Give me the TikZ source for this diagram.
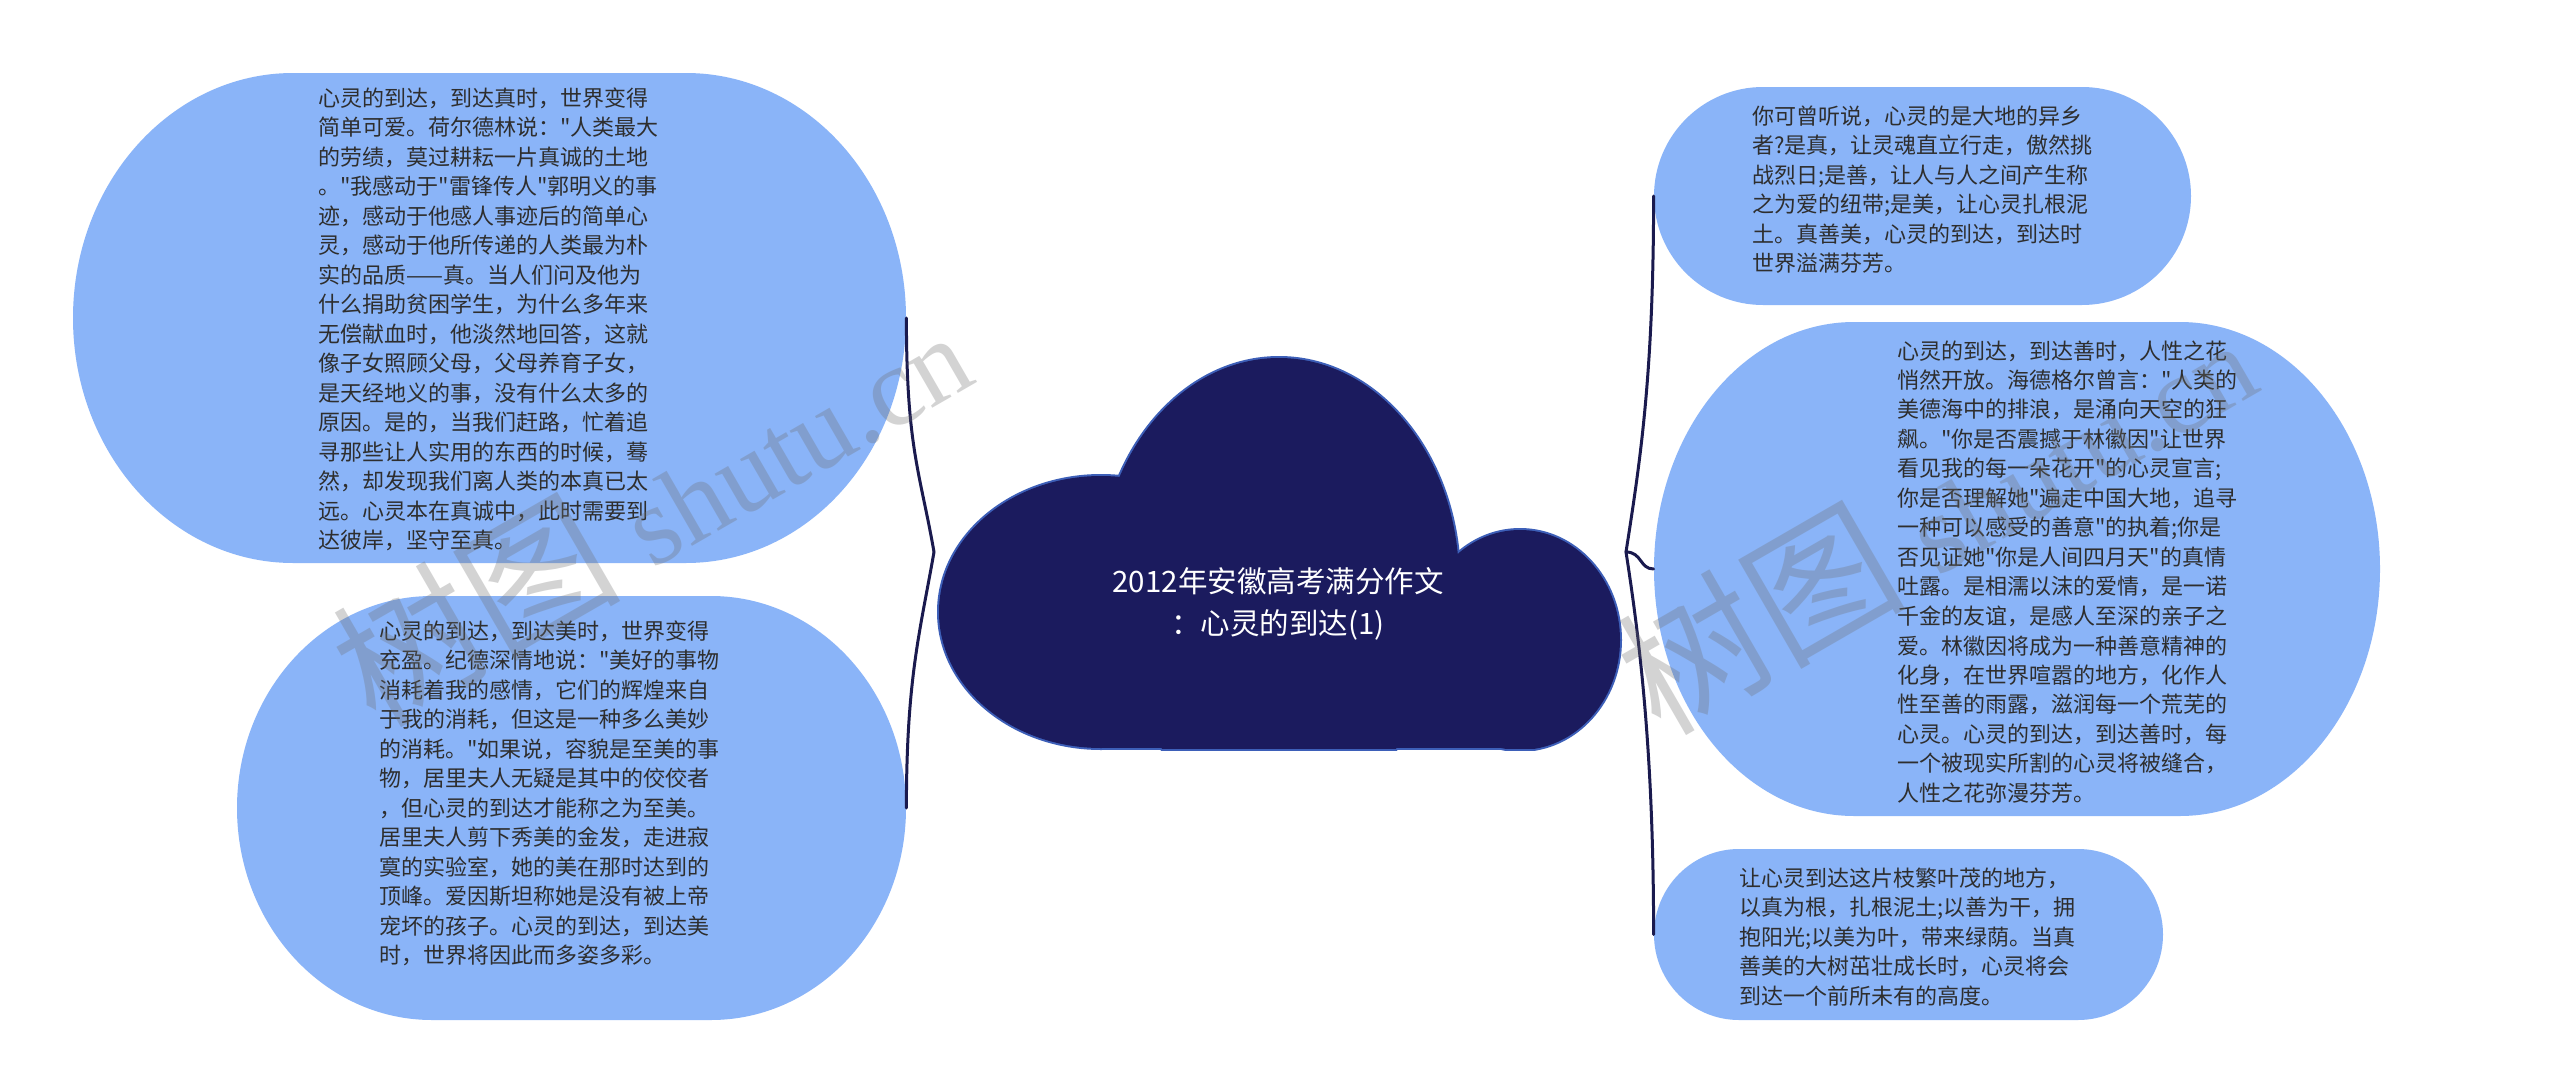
\documentclass[tikz,border=0pt]{standalone}
\usepackage{fontspec}
\newfontfamily\cjk{Noto Sans CJK SC}
\newfontfamily\wmserif{Liberation Serif}
\definecolor{nodeblue}{HTML}{8AB4F8}
\definecolor{cloudnavy}{HTML}{1B1B5E}
\definecolor{cloudedge}{HTML}{3D5FB8}
\definecolor{linknavy}{HTML}{1A1A4E}
\definecolor{txtgray}{HTML}{2E2E2E}
\definecolor{wmgray}{HTML}{6E6E6E}
\newcommand\topicnode[6]{% name, x0, y0, x1, y1, corner a
  \pgfmathsetmacro\tnb{(#5-#3)/2}%
  \pgfmathsetmacro\tnm{(#3+#5)/2}%
  \def\tnk{0.5523}%
  \fill[nodeblue] ({#2+#6},#3) -- ({#4-#6},#3)
    .. controls ({#4-#6+\tnk*#6},#3) and (#4,{\tnm-\tnk*\tnb}) .. (#4,\tnm)
    .. controls (#4,{\tnm+\tnk*\tnb}) and ({#4-#6+\tnk*#6},#5) .. ({#4-#6},#5)
    -- ({#2+#6},#5)
    .. controls ({#2+#6-\tnk*#6},#5) and (#2,{\tnm+\tnk*\tnb}) .. (#2,\tnm)
    .. controls (#2,{\tnm-\tnk*\tnb}) and ({#2+#6-\tnk*#6},#3) .. ({#2+#6},#3) -- cycle;
  \node[topicbox, minimum width={(#4-#2)*0.5pt}, minimum height={(#5-#3)*0.5pt}] (#1) at ({(#2+#4)/2},\tnm) {};
}
\newcommand\wmtext{{\cjk\fontsize{72pt}{72pt}\selectfont 树图}\hspace{16pt}{\wmserif\fontsize{56pt}{56pt}\selectfont shutu.cn}}
\begin{document}
\begin{tikzpicture}[x=0.5pt,y=-0.5pt,
  topicbox/.style={shape=rectangle, inner sep=0pt, draw=none},
  bodytext/.style={anchor=north west, align=left, inner sep=0pt, text=txtgray,
    font=\cjk\fontsize{11pt}{14.75pt}\selectfont},
  titletext/.style={align=center, inner sep=0pt, text=white,
    font=\cjk\fontsize{14.75pt}{21pt}\selectfont},
  link/.style={draw=linknavy, line width=1.5pt, line cap=round},
  wmark/.style={text=wmgray, opacity=0.3, rotate=30, inner sep=0pt}]
\useasboundingbox (0,0) rectangle (2560,1092);
\fill[white] (0,0) rectangle (2560,1092);

% cloud: outline pass
\begin{scope}
  \clip (880,300) rectangle (1680,750);
  \filldraw[cloudedge, line width=2pt] (1101,612) ellipse [x radius=81pt, y radius=68pt];
  \filldraw[cloudedge, line width=2pt] (1279,580) ellipse [x radius=90pt, y radius=111pt];
  \filldraw[cloudedge, line width=2pt] (1520,640) ellipse [x radius=50pt, y radius=55pt];
  \filldraw[cloudedge, line width=2pt] (1101,600) rectangle (1520,748);
\end{scope}
% cloud: fill pass
\begin{scope}
  \clip (880,300) rectangle (1680,748);
  \fill[cloudnavy] (1101,612) ellipse [x radius=81pt, y radius=68pt];
  \fill[cloudnavy] (1279,580) ellipse [x radius=90pt, y radius=111pt];
  \fill[cloudnavy] (1520,640) ellipse [x radius=50pt, y radius=55pt];
  \fill[cloudnavy] (1101,600) rectangle (1520,748);
\end{scope}
\node[titletext] (root) at (1278,604) {2012年安徽高考满分作文\\：心灵的到达(1)};
\coordinate (cl) at (934,552);
\coordinate (cr) at (1626,552);

% topic shapes
\topicnode{L1}{73}{73}{906}{563}{220}
\topicnode{L2}{237}{596}{906}{1020}{195}
\topicnode{R1}{1654}{87}{2191}{305}{109}
\topicnode{R2}{1654}{322}{2380}{816}{200}
\topicnode{R3}{1654}{849}{2163}{1020}{85}

% connectors
\draw[link] (cl) .. controls +(-14,-80) and +(0,130) .. (L1.east);
\draw[link] (cl) .. controls +(-14,80) and +(0,-130) .. (L2.east);
\draw[link] (cr) .. controls +(14,-90) and +(0,180) .. (R1.west);
\draw[link] (cr) .. controls +(16,0) and +(-14,0) .. (R2.west);
\draw[link] (cr) .. controls +(14,90) and +(0,-180) .. (R3.west);

% texts
\node[bodytext] (tL1) at (318,87) {心灵的到达，到达真时，世界变得\\
简单可爱。荷尔德林说："人类最大\\
的劳绩，莫过耕耘一片真诚的土地\\
。"我感动于"雷锋传人"郭明义的事\\
迹，感动于他感人事迹后的简单心\\
灵，感动于他所传递的人类最为朴\\
实的品质——真。当人们问及他为\\
什么捐助贫困学生，为什么多年来\\
无偿献血时，他淡然地回答，这就\\
像子女照顾父母，父母养育子女，\\
是天经地义的事，没有什么太多的\\
原因。是的，当我们赶路，忙着追\\
寻那些让人实用的东西的时候，蓦\\
然，却发现我们离人类的本真已太\\
远。心灵本在真诚中，此时需要到\\
达彼岸，坚守至真。};

\node[bodytext] (tL2) at (379,620) {心灵的到达，到达美时，世界变得\\
充盈。纪德深情地说："美好的事物\\
消耗着我的感情，它们的辉煌来自\\
于我的消耗，但这是一种多么美妙\\
的消耗。"如果说，容貌是至美的事\\
物，居里夫人无疑是其中的佼佼者\\
，但心灵的到达才能称之为至美。\\
居里夫人剪下秀美的金发，走进寂\\
寞的实验室，她的美在那时达到的\\
顶峰。爱因斯坦称她是没有被上帝\\
宠坏的孩子。心灵的到达，到达美\\
时，世界将因此而多姿多彩。};

\node[bodytext] (tR1) at (1752,105) {你可曾听说，心灵的是大地的异乡\\
者?是真，让灵魂直立行走，傲然挑\\
战烈日;是善，让人与人之间产生称\\
之为爱的纽带;是美，让心灵扎根泥\\
土。真善美，心灵的到达，到达时\\
世界溢满芬芳。};

\node[bodytext] (tR2) at (1897,340) {心灵的到达，到达善时，人性之花\\
悄然开放。海德格尔曾言："人类的\\
美德海中的排浪，是涌向天空的狂\\
飙。"你是否震撼于林徽因"让世界\\
看见我的每一朵花开"的心灵宣言;\\
你是否理解她"遍走中国大地，追寻\\
一种可以感受的善意"的执着;你是\\
否见证她"你是人间四月天"的真情\\
吐露。是相濡以沫的爱情，是一诺\\
千金的友谊，是感人至深的亲子之\\
爱。林徽因将成为一种善意精神的\\
化身，在世界喧嚣的地方，化作人\\
性至善的雨露，滋润每一个荒芜的\\
心灵。心灵的到达，到达善时，每\\
一个被现实所割的心灵将被缝合，\\
人性之花弥漫芬芳。};

\node[bodytext] (tR3) at (1739,867) {让心灵到达这片枝繁叶茂的地方，\\
以真为根，扎根泥土;以善为干，拥\\
抱阳光;以美为叶，带来绿荫。当真\\
善美的大树茁壮成长时，心灵将会\\
到达一个前所未有的高度。};

% watermarks
\node[wmark] (wm1) at (650,508) {\wmtext};
\node[wmark] (wm2) at (1935,516) {\wmtext};
\end{tikzpicture}
\end{document}
